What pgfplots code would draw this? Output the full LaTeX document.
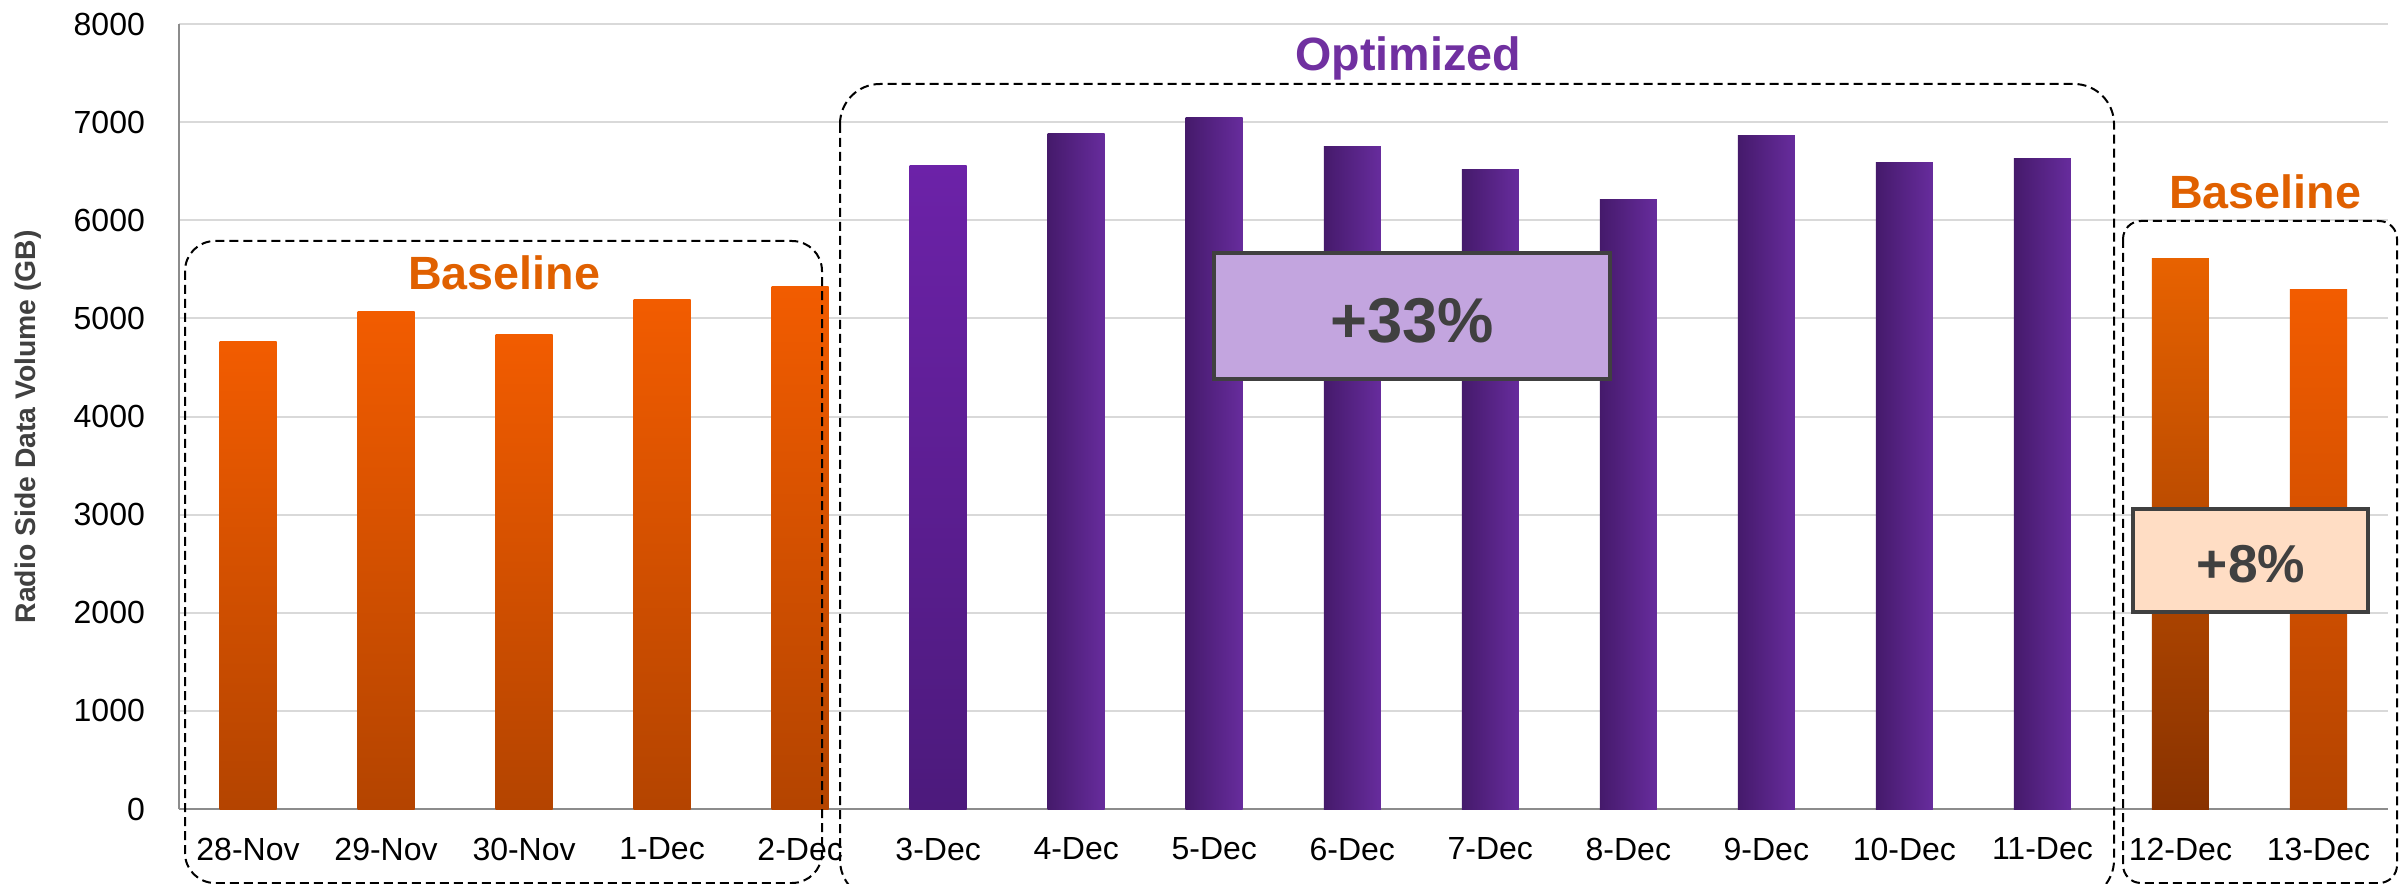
\documentclass[border=0pt]{standalone}
\usepackage{fontspec}
\setmainfont{Liberation Sans}
\usepackage{pgfplots}
\pgfplotsset{compat=1.18}
\usetikzlibrary{calc}

\definecolor{orTop}{HTML}{F25C00}
\definecolor{orBot}{HTML}{B44400}
\definecolor{orTopB}{HTML}{E86200}
\definecolor{orBotB}{HTML}{883200}
\definecolor{purL}{HTML}{451A6B}
\definecolor{purR}{HTML}{672C9D}
\definecolor{purTop}{HTML}{6C22A8}
\definecolor{purBot}{HTML}{4C1A7C}
\definecolor{gridc}{HTML}{D9D9D9}
\definecolor{axisc}{HTML}{8C8C8C}
\definecolor{txtgray}{HTML}{404040}
\definecolor{baseor}{HTML}{E06000}
\definecolor{optxt}{HTML}{7030A0}
\definecolor{boxpur}{HTML}{C3A5DF}
\definecolor{boxor}{HTML}{FFDDC4}

\pgfplotsset{
  orbar/.style={bar shift=0pt, draw=none, top color=orTop, bottom color=orBot},
  purbar/.style={bar shift=0pt, draw=none, left color=purL, right color=purR},
}

\begin{document}
\begin{tikzpicture}
\begin{axis}[
  scale only axis,
  width=662.55pt, height=235.5pt,
  xmin=-0.5, xmax=15.5,
  ymin=0, ymax=8000,
  axis lines*=left,
  axis line style={draw=axisc, line width=0.8pt},
  ymajorgrids,
  grid style={draw=gridc, line width=0.6pt},
  major tick length=0pt,
  ytick={0,1000,...,8000},
  xtick={0,...,15},
  xticklabels={28-Nov,29-Nov,30-Nov,1-Dec,2-Dec,3-Dec,4-Dec,5-Dec,6-Dec,7-Dec,8-Dec,9-Dec,10-Dec,11-Dec,12-Dec,13-Dec},
  /pgf/number format/1000 sep={},
  /pgf/number format/assume math mode=true,
  tick label style={font=\fontsize{9.6}{11}\selectfont, text=black},
  xticklabel style={yshift=-5.1pt},
  yticklabel style={xshift=-6.7pt},
  ylabel={Radio Side Data Volume (GB)},
  ylabel style={at={(axis description cs:-0.0684,0.487)}, anchor=center,
    font=\bfseries\fontsize{8.5}{10}\selectfont, text=txtgray},
  clip=false,
  ybar, bar width=17.1pt,
]
% Baseline (28-Nov .. 2-Dec)
\addplot[orbar] coordinates {(0,4760)};
\addplot[orbar] coordinates {(1,5070)};
\addplot[orbar] coordinates {(2,4840)};
\addplot[orbar] coordinates {(3,5190)};
\addplot[orbar] coordinates {(4,5320)};
% Optimized (3-Dec .. 11-Dec)
\addplot[bar shift=0pt, draw=none, top color=purTop, bottom color=purBot] coordinates {(5,6560)};
\addplot[purbar] coordinates {(6,6880)};
\addplot[purbar] coordinates {(7,7050)};
\addplot[purbar] coordinates {(8,6750)};
\addplot[purbar] coordinates {(9,6520)};
\addplot[purbar] coordinates {(10,6210)};
\addplot[purbar] coordinates {(11,6860)};
\addplot[purbar] coordinates {(12,6590)};
\addplot[purbar] coordinates {(13,6630)};
% Baseline (12-Dec, 13-Dec)
\addplot[bar shift=0pt, draw=none, top color=orTopB, bottom color=orBotB] coordinates {(14,5615)};
\addplot[orbar] coordinates {(15,5290)};
\end{axis}

\begin{scope}[shift={($(current axis.south west)+(-53.7pt,242.7pt)$)}, x=0.3pt, y=-0.3pt]
  % dashed group frames
  \draw[line width=0.6pt, dash pattern=on 2.7pt off 1.5pt, rounded corners=9pt]
    (185,241) rectangle (822,883);
  \draw[line width=0.6pt, dash pattern=on 2.7pt off 1.5pt, rounded corners=12pt]
    (840,84) rectangle (2114,900);
  \draw[line width=0.6pt, dash pattern=on 2.7pt off 1.5pt, rounded corners=5.4pt]
    (2123,221) rectangle (2397,883);
  % group titles
  \node[anchor=base, inner sep=0pt, font=\bfseries\fontsize{14}{16}\selectfont, text=baseor]
    at (504,290) {Baseline};
  \node[anchor=base, inner sep=0pt, font=\bfseries\fontsize{14}{16}\selectfont, text=optxt]
    at (1408,71) {Optimized};
  \node[anchor=base, inner sep=0pt, font=\bfseries\fontsize{14}{16}\selectfont, text=baseor]
    at (2265,209) {Baseline};
  % percentage boxes
  \draw[fill=boxpur, draw=txtgray, line width=1.2pt] (1214,253) rectangle (1610,379);
  \node[anchor=base, inner sep=0pt, font=\bfseries\fontsize{19}{22}\selectfont, text=txtgray]
    at (1412,342) {+33\%};
  \draw[fill=boxor, draw=txtgray, line width=1.2pt] (2133,509) rectangle (2368,612);
  \node[anchor=base, inner sep=0pt, font=\bfseries\fontsize{16}{19}\selectfont, text=txtgray]
    at (2251,582) {+8\%};
\end{scope}

\pgfresetboundingbox
\path[use as bounding box] ($(current axis.south west)+(-53.7pt,-22.5pt)$) rectangle ($(current axis.south west)+(666.9pt,242.7pt)$);
\end{tikzpicture}
\end{document}
